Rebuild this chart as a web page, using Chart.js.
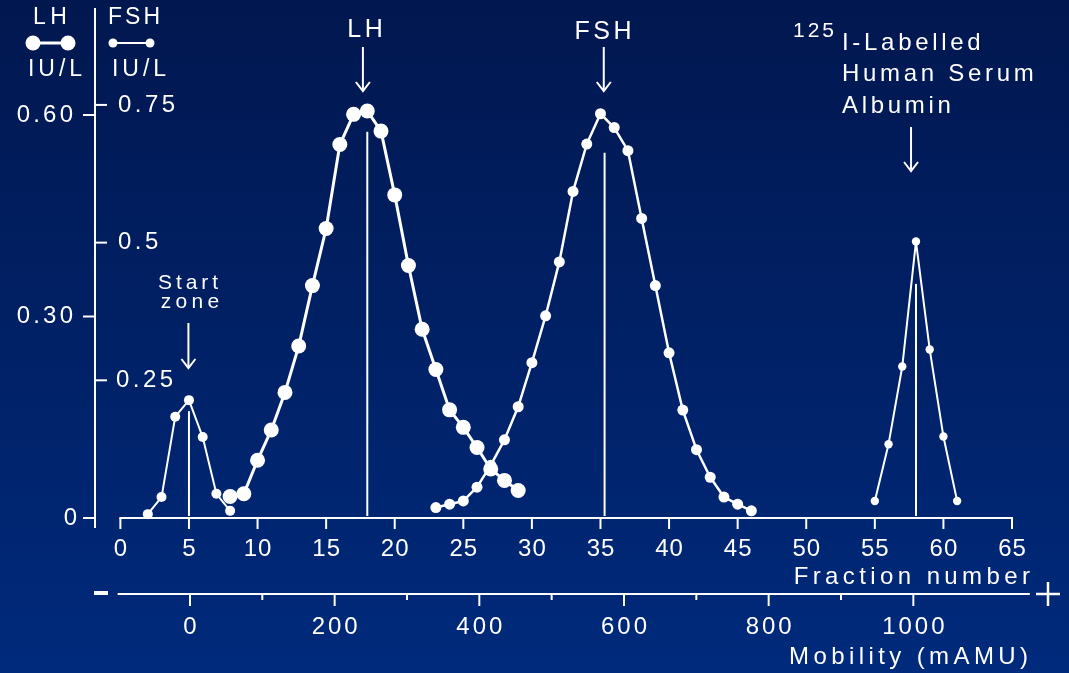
<!DOCTYPE html>
<html>
<head>
<meta charset="utf-8">
<script src="https://cdn.jsdelivr.net/npm/chart.js@4/dist/chart.umd.min.js"></script>
<style>
  html, body { margin: 0; padding: 0; background: #011850; }
  #c { display: block; }
</style>
</head>
<body>
<canvas id="c" width="1069" height="673"></canvas>
<script>
// LH immunoreactivity (IU/L) per fraction
const lhFractions = [8, 9, 10, 11, 12, 13, 14, 15, 16, 17, 18, 19, 20, 21, 22, 23, 24, 25, 26, 27, 28, 29];
const lhValues = [0.032, 0.036, 0.086, 0.131, 0.187, 0.256, 0.346, 0.431, 0.556, 0.601, 0.606, 0.576, 0.481, 0.376, 0.281, 0.221, 0.161, 0.135, 0.105, 0.073, 0.056, 0.041];

// FSH immunoreactivity (IU/L) per fraction
const fshFractions = [23, 24, 25, 26, 27, 28, 29, 30, 31, 32, 33, 34, 35, 36, 37, 38, 39, 40, 41, 42, 43, 44, 45, 46];
const fshValues = [0.019, 0.025, 0.031, 0.056, 0.096, 0.142, 0.202, 0.282, 0.367, 0.465, 0.593, 0.679, 0.734, 0.709, 0.667, 0.544, 0.422, 0.300, 0.196, 0.124, 0.074, 0.038, 0.025, 0.013];

// Material remaining at the start zone
const startFractions = [2, 3, 4, 5, 6, 7, 8];
const startValues = [0.007, 0.038, 0.184, 0.214, 0.147, 0.044, 0.013];

// 125I-labelled human serum albumin marker
const albuminFractions = [55, 56, 57, 58, 59, 60, 61];
const albuminValues = [0.031, 0.134, 0.275, 0.502, 0.306, 0.148, 0.031];

// Peak position markers: fraction, top value, axis
const markerFractions = [5, 18, 35.3, 58];
const markerTops = [0.194, 0.575, 0.663, 0.425];
const markerAxes = ['yFSH', 'yLH', 'yFSH', 'yFSH'];

// Axis ticks
const fractionTicks = [0, 5, 10, 15, 20, 25, 30, 35, 40, 45, 50, 55, 60, 65];
const fractionTickLabels = ['0', '5', '10', '15', '20', '25', '30', '35', '40', '45', '50', '55', '60', '65'];
const mobilityTicks = [0, 100, 200, 300, 400, 500, 600, 700, 800, 900, 1000];
const mobilityTickLabels = ['0', '', '200', '', '400', '', '600', '', '800', '', '1000'];
const lhTicks = [0, 0.30, 0.60];
const lhTickLabels = ['0', '0.30', '0.60'];
const fshTicks = [0.25, 0.5, 0.75];
const fshTickLabels = ['0.25', '0.5', '0.75'];

const FONT = "'Liberation Sans', Arial, sans-serif";
const WHITE = '#ffffff';

function pts(xs, ys) { return xs.map((x, i) => ({ x: x, y: ys[i] })); }

function txt(ctx, s, x, y, size, align, spacing) {
  ctx.save();
  ctx.font = size + 'px ' + FONT;
  ctx.letterSpacing = (spacing || 0) + 'px';
  ctx.fillStyle = WHITE;
  ctx.textBaseline = 'middle';
  const w = ctx.measureText(s).width - (spacing || 0);
  const left = align === 'center' ? x - w / 2 : align === 'right' ? x - w : x;
  ctx.textAlign = 'left';
  ctx.fillText(s, left, y);
  ctx.restore();
}

function line(ctx, x1, y1, x2, y2, w) {
  ctx.save();
  ctx.strokeStyle = WHITE;
  ctx.lineWidth = w || 2;
  ctx.beginPath();
  ctx.moveTo(x1, y1);
  ctx.lineTo(x2, y2);
  ctx.stroke();
  ctx.restore();
}

function arrowDown(ctx, x, y1, y2) {
  line(ctx, x, y1, x, y2, 2);
  ctx.save();
  ctx.strokeStyle = WHITE;
  ctx.lineWidth = 2;
  ctx.beginPath();
  ctx.moveTo(x - 7, y2 - 9);
  ctx.lineTo(x, y2);
  ctx.lineTo(x + 7, y2 - 9);
  ctx.stroke();
  ctx.restore();
}

function dot(ctx, x, y, r) {
  ctx.save();
  ctx.fillStyle = WHITE;
  ctx.beginPath();
  ctx.arc(x, y, r, 0, Math.PI * 2);
  ctx.fill();
  ctx.restore();
}

const backdrop = {
  id: 'backdrop',
  beforeDraw(chart) {
    const ctx = chart.ctx;
    const g = ctx.createLinearGradient(0, 0, 0, chart.height);
    g.addColorStop(0, '#01174f');
    g.addColorStop(1, '#002a7c');
    ctx.save();
    ctx.fillStyle = g;
    ctx.fillRect(0, 0, chart.width, chart.height);
    ctx.restore();
  }
};

const axesAndNotes = {
  id: 'axesAndNotes',
  beforeDatasetsDraw(chart) {
    const ctx = chart.ctx;
    const x = chart.scales.x, xm = chart.scales.xMob;
    const yL = chart.scales.yLH, yF = chart.scales.yFSH;
    const y0 = yL.getPixelForValue(0);

    // vertical axis shared by LH (left ticks) and FSH (right ticks)
    const ax = 95;
    line(ctx, ax, 8, ax, y0 + 10, 2);
    lhTicks.forEach((v, i) => {
      const py = yL.getPixelForValue(v);
      line(ctx, ax - 12, py, ax, py, 2);
      txt(ctx, lhTickLabels[i], v === 0 ? 77 : 73, py, 24, 'right', 3.2);
    });
    fshTicks.forEach((v, i) => {
      const py = yF.getPixelForValue(v);
      line(ctx, ax, py, ax + 12, py, 2);
      txt(ctx, fshTickLabels[i], i === 0 ? 116 : 118, py, 24, 'left', 3.5);
    });

    // fraction number axis
    line(ctx, x.getPixelForValue(0) - 1, y0, x.getPixelForValue(65) + 1, y0, 2);
    fractionTicks.forEach((v, i) => {
      const px = x.getPixelForValue(v);
      line(ctx, px, y0, px, y0 + 11, 2);
      txt(ctx, fractionTickLabels[i], px, y0 + 31, 24, 'center', 1);
    });
    txt(ctx, 'Fraction number', 1030, 577, 24, 'right', 4.4);

    // mobility axis
    const my = 594;
    line(ctx, xm.getPixelForValue(-100), my, xm.getPixelForValue(1161), my, 2);
    mobilityTicks.forEach((v, i) => {
      const px = xm.getPixelForValue(v);
      const major = mobilityTickLabels[i] !== '';
      line(ctx, px, my, px, my + (major ? 12 : 6), 2);
      if (major) txt(ctx, mobilityTickLabels[i], px, my + 33, 24, 'center', 3);
    });
    txt(ctx, 'Mobility (mAMU)', 1028, 657, 24, 'right', 4.4);
    ctx.save();
    ctx.fillStyle = WHITE;
    ctx.fillRect(94, 591, 14, 4);
    ctx.restore();
    line(ctx, 1036, 594, 1060, 594, 2.5);
    line(ctx, 1048, 582, 1048, 606, 2.5);

    // peak markers
    markerFractions.forEach((f, i) => {
      const px = x.getPixelForValue(f);
      const top = chart.scales[markerAxes[i]].getPixelForValue(markerTops[i]);
      line(ctx, px, top, px, y0 - 2, 2);
    });

    // legend keys
    txt(ctx, 'LH', 50, 18, 23, 'center', 4.5);
    line(ctx, 33, 43, 68, 43, 3);
    dot(ctx, 33, 43, 7.5);
    dot(ctx, 68, 43, 7.5);
    txt(ctx, 'IU/L', 55, 70, 23, 'center', 4);
    txt(ctx, 'FSH', 134, 18, 23, 'center', 3);
    line(ctx, 113, 43, 150, 43, 2);
    dot(ctx, 113, 43, 4.5);
    dot(ctx, 150, 43, 4.5);
    txt(ctx, 'IU/L', 139, 70, 23, 'center', 4);

    // annotations
    txt(ctx, 'LH', 365, 30, 25, 'center', 3.5);
    arrowDown(ctx, x.getPixelForValue(17.68), 47, 91);
    txt(ctx, 'FSH', 603, 32, 25, 'center', 3.5);
    arrowDown(ctx, x.getPixelForValue(35.24), 47, 91);
    txt(ctx, 'Start', 188, 283, 21, 'center', 3.9);
    txt(ctx, 'zone', 190, 302, 21, 'center', 4.3);
    arrowDown(ctx, x.getPixelForValue(4.96), 323, 368);
    txt(ctx, '125', 793, 31, 21, 'left', 3);
    txt(ctx, 'I-Labelled', 842, 43, 24, 'left', 3.7);
    txt(ctx, 'Human Serum', 842, 74, 24, 'left', 3.7);
    txt(ctx, 'Albumin', 842, 106, 24, 'left', 3.7);
    arrowDown(ctx, x.getPixelForValue(57.64), 127, 171);
  }
};

function series(data, axis, radius, width) {
  return {
    data: data,
    yAxisID: axis,
    showLine: true,
    borderColor: WHITE,
    backgroundColor: WHITE,
    borderWidth: width,
    borderJoinStyle: 'round',
    pointRadius: radius,
    pointBorderWidth: 0,
    pointHoverRadius: radius,
    tension: 0,
    clip: false
  };
}

new Chart(document.getElementById('c'), {
  type: 'scatter',
  data: {
    datasets: [
      series(pts(startFractions, startValues), 'yFSH', 5, 2),
      series(pts(fshFractions, fshValues), 'yFSH', 5.5, 2.5),
      series(pts(albuminFractions, albuminValues), 'yFSH', 4.2, 2),
      series(pts(lhFractions, lhValues), 'yLH', 7.5, 3)
    ]
  },
  options: {
    responsive: false,
    animation: false,
    devicePixelRatio: 1,
    layout: { padding: { left: 95, right: 57, top: 8, bottom: 155 }, autoPadding: false },
    plugins: { legend: { display: false }, tooltip: { enabled: false } },
    events: [],
    scales: {
      x: { type: 'linear', min: -1.85, max: 65, display: false },
      xMob: { type: 'linear', axis: 'x', min: -131.3, max: 1136.4, display: false },
      yLH: { type: 'linear', axis: 'y', min: 0, max: 0.7593, display: false },
      yFSH: { type: 'linear', axis: 'y', min: 0, max: 0.926, display: false }
    }
  },
  plugins: [backdrop, axesAndNotes]
});
</script>
</body>
</html>
